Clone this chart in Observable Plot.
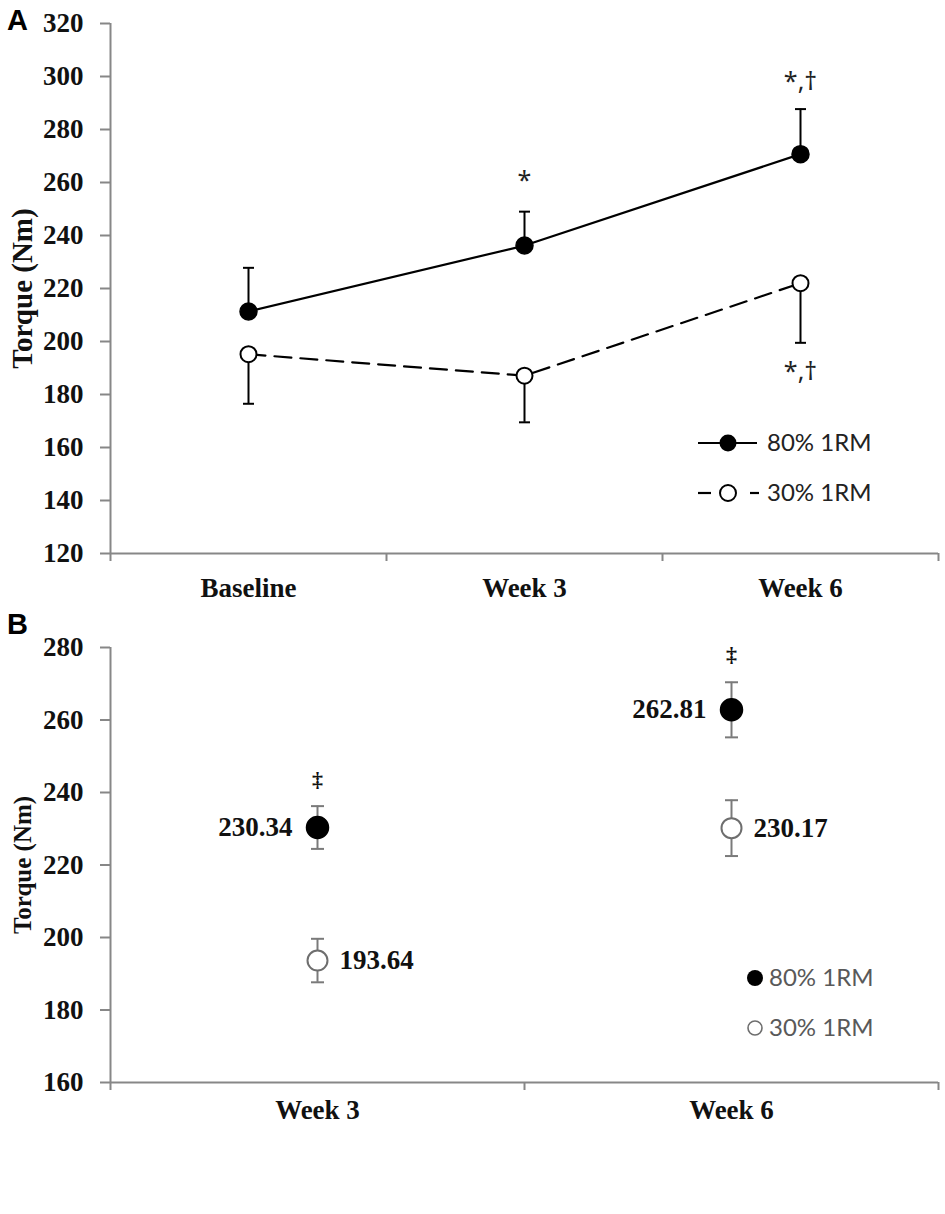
<!DOCTYPE html>
<html>
<head>
<meta charset="utf-8">
<script src="https://cdn.jsdelivr.net/npm/d3@7"></script>
<script src="https://cdn.jsdelivr.net/npm/@observablehq/plot@0.6"></script>
<style>
  body { margin: 0; background: #fff; }
  #wrap { position: relative; width: 945px; height: 1214px; background: #fff; }
  #chartA { position: absolute; left: 0; top: 0; }
  #chartB { position: absolute; left: 0; top: 605px; }
  .panel { position: absolute; left: 7px; font: bold 29px "Liberation Sans", sans-serif; color: #000; line-height: 1; }
</style>
</head>
<body>
<div id="wrap">
  <div id="chartA"></div>
  <div id="chartB"></div>
  <div class="panel" style="top:6px">A</div>
  <div class="panel" style="top:610px">B</div>
</div>
<script>
// panel A: torque over time
const weeksA = ["Baseline", "Week 3", "Week 6"];
const mean80A = [211.3, 236.2, 270.7];
const sd80A = [16.5, 12.8, 17.0];
const mean30A = [195.2, 187.1, 222.0];
const sd30A = [18.7, 17.6, 22.5];
const ticksA = [120, 140, 160, 180, 200, 220, 240, 260, 280, 300, 320];
const notesA = [
  {week: "Week 3", y: 260.6, label: "*"},
  {week: "Week 6", y: 297.8, label: "*,†"},
  {week: "Week 6", y: 188.4, label: "*,†"}
];

// panel B: week 3 and week 6 values
const weeksB = ["Week 3", "Week 6"];
const mean80B = [230.34, 262.81];
const sd80B = [5.9, 7.6];
const mean30B = [193.64, 230.17];
const sd30B = [6.0, 7.7];
const ticksB = [160, 180, 200, 220, 240, 260, 280];
const notesB = [
  {week: "Week 3", y: 243.4, label: "‡"},
  {week: "Week 6", y: 277.9, label: "‡"}
];

const legendLabels = ["80% 1RM", "30% 1RM"];

const rows = (weeks, mean, sd) => weeks.map((w, i) => ({i, week: w, mean: mean[i], sd: sd[i]}));
const rows80A = rows(weeksA, mean80A, sd80A);
const rows30A = rows(weeksA, mean30A, sd30A);
const rows80B = rows(weeksB, mean80B, sd80B);
const rows30B = rows(weeksB, mean30B, sd30B);

// horizontal cap for error bars
const cap = {draw(ctx, size) { const r = Math.sqrt(size / Math.PI); ctx.moveTo(-r, 0); ctx.lineTo(r, 0); }};

const serif = "'Liberation Serif', 'Times New Roman', serif";
const sans = "Lato, 'Open Sans', sans-serif";
const axisGray = "#878787";

function axes(weeks, ticks, ymin, labelPad, titleSize) {
  const bounds = d3.range(weeks.length + 1).map(k => k - 0.5);
  return [
    Plot.ruleX([-0.5], {stroke: axisGray, strokeWidth: 2}),
    Plot.ruleY([ymin], {stroke: axisGray, strokeWidth: 2}),
    Plot.axisY({ticks, tickSize: 10, tickPadding: 17, stroke: axisGray, strokeWidth: 2,
      fill: "#111", fontSize: 27, fontWeight: "bold", fontFamily: serif, label: null}),
    Plot.axisX({ticks: bounds, tickSize: 8, stroke: axisGray, strokeWidth: 2, tickFormat: () => "", label: null}),
    Plot.axisX({ticks: weeks.map((w, i) => i), tickSize: 0, tickPadding: labelPad, tickFormat: i => weeks[i],
      fill: "#111", fontSize: 27, fontWeight: "bold", fontFamily: serif, label: null}),
    Plot.text(["Torque (Nm)"], {frameAnchor: "left", textAnchor: "middle", rotate: -90, dx: -88, fontSize: titleSize,
      fontWeight: "bold", fontFamily: serif, fill: "#111"})
  ];
}

const chartA = Plot.plot({
  width: 945, height: 605,
  marginLeft: 110, marginRight: 7, marginTop: 23, marginBottom: 52,
  style: {fontFamily: serif, background: "#fff", overflow: "visible"},
  x: {domain: [-0.5, weeksA.length - 0.5]},
  y: {domain: [120, 320]},
  marks: [
    ...axes(weeksA, ticksA, 120, 24, 29),
    Plot.line(rows80A, {x: "i", y: "mean", stroke: "#000", strokeWidth: 2.2}),
    Plot.line(rows30A, {x: "i", y: "mean", stroke: "#000", strokeWidth: 2.2, strokeDasharray: "17,9"}),
    Plot.ruleX(rows80A, {x: "i", y1: "mean", y2: d => d.mean + d.sd, stroke: "#000", strokeWidth: 2}),
    Plot.dot(rows80A, {x: "i", y: d => d.mean + d.sd, symbol: cap, r: 5.5, fill: "none", stroke: "#000", strokeWidth: 2}),
    Plot.ruleX(rows30A, {x: "i", y1: "mean", y2: d => d.mean - d.sd, stroke: "#000", strokeWidth: 2}),
    Plot.dot(rows30A, {x: "i", y: d => d.mean - d.sd, symbol: cap, r: 5.5, fill: "none", stroke: "#000", strokeWidth: 2}),
    Plot.dot(rows80A, {x: "i", y: "mean", r: 8.5, fill: "#000", stroke: "#000"}),
    Plot.dot(rows30A, {x: "i", y: "mean", r: 8, fill: "#fff", stroke: "#000", strokeWidth: 2}),
    Plot.text(notesA, {x: d => weeksA.indexOf(d.week), y: "y", text: "label", fontSize: 25,
      fontFamily: "'Noto Sans', sans-serif", fill: "#222"})
  ]
});

const grayBar = "#7a7a7a";
const chartB = Plot.plot({
  width: 945, height: 520,
  marginLeft: 110, marginRight: 7, marginTop: 42, marginBottom: 43,
  style: {fontFamily: serif, background: "#fff", overflow: "visible"},
  x: {domain: [-0.5, weeksB.length - 0.5]},
  y: {domain: [160, 280]},
  marks: [
    ...axes(weeksB, ticksB, 160, 17, 25),
    Plot.ruleX([...rows80B, ...rows30B], {x: "i", y1: d => d.mean - d.sd, y2: d => d.mean + d.sd, stroke: grayBar, strokeWidth: 2}),
    Plot.dot([...rows80B, ...rows30B], {x: "i", y: d => d.mean + d.sd, symbol: cap, r: 6.5, fill: "none", stroke: grayBar, strokeWidth: 2}),
    Plot.dot([...rows80B, ...rows30B], {x: "i", y: d => d.mean - d.sd, symbol: cap, r: 6.5, fill: "none", stroke: grayBar, strokeWidth: 2}),
    Plot.dot(rows80B, {x: "i", y: "mean", r: 11, fill: "#000", stroke: "#000"}),
    Plot.dot(rows30B, {x: "i", y: "mean", r: 10, fill: "#fff", stroke: "#6e6e6e", strokeWidth: 2}),
    Plot.text(rows80B, {x: "i", y: "mean", text: d => d.mean.toFixed(2), textAnchor: "end", dx: -25,
      fontSize: 27, fontWeight: "bold", fontFamily: serif, fill: "#111"}),
    Plot.text(rows30B, {x: "i", y: "mean", text: d => d.mean.toFixed(2), textAnchor: "start", dx: 22,
      fontSize: 27, fontWeight: "bold", fontFamily: serif, fill: "#111"}),
    Plot.text(notesB, {x: d => weeksB.indexOf(d.week), y: "y", text: "label", fontSize: 22,
      fontWeight: "bold", fontFamily: serif, fill: "#111"})
  ]
});

d3.select("#chartA").append(() => chartA);
d3.select("#chartB").append(() => chartB);

// legends drawn on an overlay
const leg = d3.select("#wrap").append("svg")
  .attr("width", 945).attr("height", 1214)
  .style("position", "absolute").style("left", 0).style("top", 0).style("pointer-events", "none");

// panel A legend
const gA = leg.append("g").attr("font-family", sans).attr("font-size", 24).attr("fill", "#222");
gA.append("line").attr("x1", 698).attr("x2", 757).attr("y1", 443).attr("y2", 443).attr("stroke", "#000").attr("stroke-width", 2.2);
gA.append("circle").attr("cx", 728).attr("cy", 443).attr("r", 8.5).attr("fill", "#000");
gA.append("text").attr("x", 767).attr("y", 443).attr("dy", "0.35em").text(legendLabels[0]);
gA.append("line").attr("x1", 698).attr("x2", 711).attr("y1", 493).attr("y2", 493).attr("stroke", "#000").attr("stroke-width", 2.2);
gA.append("line").attr("x1", 750).attr("x2", 759).attr("y1", 493).attr("y2", 493).attr("stroke", "#000").attr("stroke-width", 2.2);
gA.append("circle").attr("cx", 728).attr("cy", 493).attr("r", 8).attr("fill", "#fff").attr("stroke", "#000").attr("stroke-width", 2);
gA.append("text").attr("x", 767).attr("y", 493).attr("dy", "0.35em").text(legendLabels[1]);

// panel B legend
const gB = leg.append("g").attr("font-family", sans).attr("font-size", 24).attr("fill", "#595959");
gB.append("circle").attr("cx", 755).attr("cy", 978).attr("r", 8).attr("fill", "#000");
gB.append("text").attr("x", 769).attr("y", 978).attr("dy", "0.35em").text(legendLabels[0]);
gB.append("circle").attr("cx", 755).attr("cy", 1028).attr("r", 7).attr("fill", "#fff").attr("stroke", "#6e6e6e").attr("stroke-width", 1.6);
gB.append("text").attr("x", 769).attr("y", 1028).attr("dy", "0.35em").text(legendLabels[1]);
</script>
</body>
</html>
